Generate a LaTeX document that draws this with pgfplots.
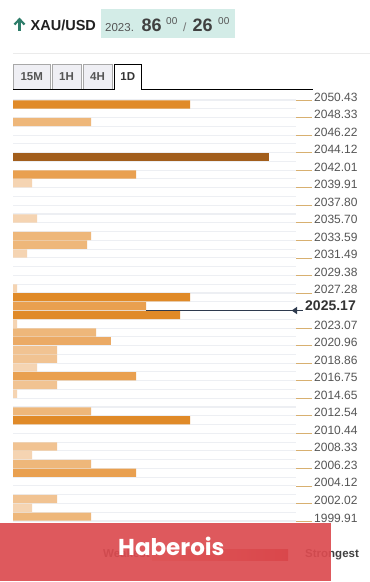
\documentclass[border=0pt]{standalone}
\usepackage{fontspec}
\setmainfont{Liberation Sans}
\newfontfamily\pop{Poppins}
\usepackage{pgfplots}
\pgfplotsset{compat=1.18}
\definecolor{cstrong}{HTML}{E08A28}
\definecolor{cdark}{HTML}{A25E1C}
\definecolor{cmed}{HTML}{E9A050}
\definecolor{clight2}{HTML}{EBAA65}
\definecolor{clight}{HTML}{EEB77A}
\definecolor{clighter}{HTML}{F1C392}
\definecolor{cvlight}{HTML}{F5D4B2}
\definecolor{gridgray}{HTML}{EDEFF3}
\definecolor{ticktan}{HTML}{D8B070}
\definecolor{labgray}{HTML}{555555}
\definecolor{navy}{HTML}{2E3A4E}
\definecolor{boxteal}{HTML}{D3ECE7}
\definecolor{arrowgreen}{HTML}{2E7D6A}
\definecolor{tabfill}{HTML}{EFEFF4}
\definecolor{tabdraw}{HTML}{A8A8A8}
\definecolor{ovred}{HTML}{DC4B50}
\definecolor{gradred}{HTML}{C0201A}
\begin{document}
\begin{tikzpicture}[x=1pt,y=1pt]
\useasboundingbox (0,0) rectangle (370,-582);
\fill[white] (0,0) rectangle (370,-582);
% header
\draw[arrowgreen, line width=2.2pt] (19.5,-30.5) -- (19.5,-19.5);
\draw[arrowgreen, line width=2.2pt] (14.5,-24.5) -- (19.5,-19.2) -- (24.5,-24.5);
\node[anchor=base west, inner sep=0pt, text=black!87] at (30.5,-30) {\fontsize{14.5}{16}\selectfont\bfseries XAU/USD};
\fill[boxteal] (101,-9) rectangle (235,-38);
\node[anchor=base west, inner sep=0pt, text=labgray] at (105,-31) {\fontsize{11.5}{12}\selectfont 2023.};
\node[anchor=base west, inner sep=0pt, text=black!75] at (141.5,-31) {\fontsize{18}{18}\selectfont\bfseries 86};
\node[anchor=base west, inner sep=0pt, text=labgray] at (166,-24) {\fontsize{10}{10}\selectfont 00};
\node[anchor=base west, inner sep=0pt, text=black!55] at (183,-31) {\fontsize{12}{12}\selectfont /};
\node[anchor=base west, inner sep=0pt, text=black!75] at (192.5,-31) {\fontsize{18}{18}\selectfont\bfseries 26};
\node[anchor=base west, inner sep=0pt, text=labgray] at (218,-24) {\fontsize{10}{10}\selectfont 00};
\draw[black!8, line width=0.8pt] (13,-53) -- (370,-53);
% tabs
\foreach \xa/\xb/\t in {13/50.5/15M, 52/81/1H, 83/112/4H}{
  \filldraw[fill=tabfill, draw=tabdraw, line width=0.6pt] (\xa,-64.5) rectangle (\xb,-89.5);
  \node[text=labgray] at ({(\xa+\xb)/2},-77) {\fontsize{11.5}{12}\selectfont\bfseries \t};
}
\draw[black, line width=1pt] (114,-89.5) -- (114,-64.5) -- (141.5,-64.5) -- (141.5,-89.5);
\node[text=black!80] at (127.75,-77) {\fontsize{11.5}{12}\selectfont\bfseries 1D};
\draw[black, line width=1pt] (13,-89.5) -- (114,-89.5);
\draw[black, line width=1pt] (141.5,-89.5) -- (313,-89.5);
% chart
\begin{axis}[at={(13pt,-100pt)}, anchor=north west,
  width=283pt, height=421pt, scale only axis,
  xmin=0, xmax=283, ymin=0, ymax=48, y dir=reverse,
  axis x line=none, axis y line*=right, axis line style={draw=none},
  ytick={0,2,4,6,8,10,12,14,16,18,20,22,26,28,30,32,34,36,38,40,42,44,46,48},
  yticklabels={2050.43,2048.33,2046.22,2044.12,2042.01,2039.91,2037.80,2035.70,2033.59,2031.49,2029.38,2027.28,2023.07,2020.96,2018.86,2016.75,2014.65,2012.54,2010.44,2008.33,2006.23,2004.12,2002.02,1999.91},
  minor ytick={1,3,5,7,9,11,13,15,17,19,21,23,24,25,27,29,31,33,35,37,39,41,43,45,47},
  ymajorgrids, yminorgrids,
  major grid style={gridgray, line width=1.1pt},
  minor grid style={gridgray, line width=1.1pt},
  tick align=outside, major tick length=16pt, minor tick length=0pt,
  major tick style={ticktan, line width=0.7pt},
  minor tick style={draw=none},
  yticklabel style={font=\fontsize{12}{12}\selectfont, text=labgray, anchor=base west, inner sep=0pt, xshift=2pt, yshift=-1pt},
  clip=false, xbar, bar shift=0pt, bar width=0.94,
]
\addplot[fill=cstrong, draw=none] coordinates {(177,0.5) (177,22.5) (167,24.5) (177,36.5)};
\addplot[fill=cdark, draw=none] coordinates {(256,6.5)};
\addplot[fill=cmed, draw=none] coordinates {(123,8.5) (133,23.5) (123,31.5) (123,42.5)};
\addplot[fill=clight2, draw=none] coordinates {(98,27.5)};
\addplot[fill=clight, draw=none] coordinates {(78,2.5) (78,15.5) (74,16.5) (83,26.5) (78,35.5) (78,41.5) (78,47.5)};
\addplot[fill=clighter, draw=none] coordinates {(44,28.5) (44,29.5) (44,32.5) (44,39.5) (44,45.5)};
\addplot[fill=cvlight, draw=none] coordinates {(19,9.5) (24,13.5) (14,17.5) (4,21.5) (4,25.5) (24,30.5) (4,33.5) (19,40.5) (19,46.5)};
\end{axis}
% current price
\draw[navy, line width=0.8pt] (146,-310.5) -- (303,-310.5);
\fill[navy] (291.7,-310.5) -- (297,-306.8) -- (297,-314.2) -- cycle;
\node[anchor=base west, inner sep=0pt, text=black!80] at (305,-310.7) {\fontsize{14}{14}\selectfont\bfseries 2025.17};
% legend
\node[anchor=base west, inner sep=0pt, text=black!75] at (103,-557) {\fontsize{11.5}{12}\selectfont\bfseries Weakest};
\shade[left color=cvlight, right color=gradred] (152,-549) rectangle (288,-560);
\node[anchor=base west, inner sep=0pt, text=black!75] at (305,-557) {\fontsize{11.5}{12}\selectfont\bfseries Strongest};
% overlay
\fill[ovred, opacity=0.92] (0,-523) rectangle (331,-581);
\node[anchor=base west, inner sep=0pt, text=white] at (118,-555.7) {\pop\fontsize{23}{23}\selectfont\bfseries Haberois};
\end{tikzpicture}
\end{document}
